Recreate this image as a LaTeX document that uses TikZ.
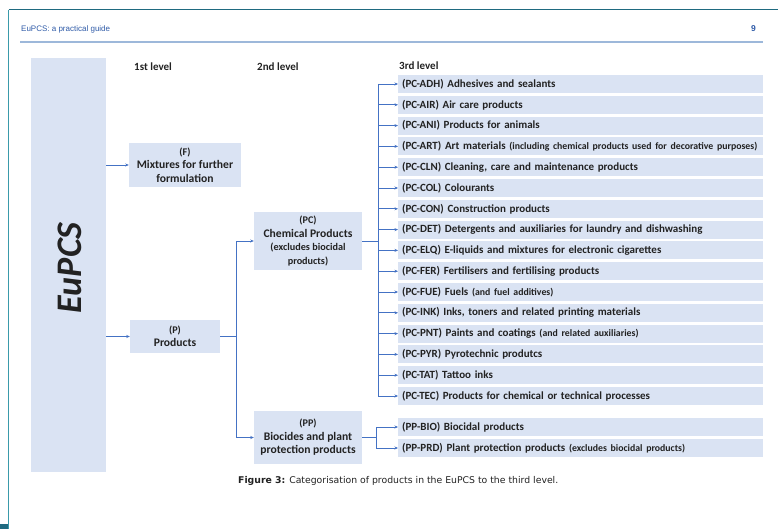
\documentclass[tikz,border=0pt]{standalone}
\usepackage{fontspec}
\setmainfont{Carlito}
\newfontfamily\hdrfont{Liberation Sans}
\newfontfamily\capfont{DejaVu Sans}
\usetikzlibrary{arrows.meta}
\definecolor{boxfill}{HTML}{DAE3F3}
\definecolor{lnblue}{HTML}{4472C4}
\definecolor{hdrblue}{HTML}{2F5BA8}
\definecolor{ruleblue}{HTML}{9DB8DA}
\definecolor{frameteal}{HTML}{1F6A80}
\definecolor{frameteal2}{HTML}{3A9AAA}
\definecolor{txt}{HTML}{222222}
\newcommand{\smtxt}[1]{{\fontsize{9.8}{11}\selectfont #1}}
\newcommand{\smbox}[1]{{\fontsize{10.2}{11}\selectfont #1}}
\begin{document}
\begin{tikzpicture}[x=1pt,y=-1pt,
 box/.style={fill=boxfill, draw=none, inner sep=0pt, align=center, text=txt, font=\bfseries\fontsize{11.6}{13.5}\selectfont},
 leaf/.style={fill=boxfill, draw=none, anchor=west, minimum height=18pt, text width=357pt, inner xsep=4pt, inner ysep=0pt, align=left, text=txt, font=\bfseries\fontsize{11}{13}\selectfont},
 conn/.style={draw=lnblue, line width=0.7pt},
 arr/.style={conn, -{Stealth[length=3.5pt,width=3pt]}},
 lvl/.style={anchor=base west, text=txt, font=\bfseries\fontsize{11}{13}\selectfont, inner sep=0pt}]
\useasboundingbox (0,0) rectangle (778,529);
\fill[white] (0,0) rectangle (778,529);
% page frame
\draw[frameteal, line width=1pt] (8.5,10) -- (778,10);
\draw[frameteal2, line width=1.2pt] (8.5,10) -- (8.5,529);
\fill[frameteal] (0,524) rectangle (8,529);
% header
\node[anchor=base west, inner sep=0pt, font=\hdrfont\fontsize{8}{9}\selectfont, text=hdrblue] (hdr) at (21,31.5) {EuPCS: a practical guide};
\node[anchor=base east, inner sep=0pt, font=\hdrfont\bfseries\fontsize{8.5}{9}\selectfont, text=hdrblue] (pgno) at (756,31.5) {9};
\draw[ruleblue, line width=2pt] (20,42.5) -- (763,42.5);
% level labels
\node[lvl] (l1lab) at (134,71) {1st level};
\node[lvl] (l2lab) at (257,71) {2nd level};
\node[lvl] (l3lab) at (399,69.5) {3rd level};
% EuPCS
\node[box, minimum width=75pt, minimum height=414pt] (eu) at (68.5,265) {};
\node[rotate=90, inner sep=0pt, text=txt, font=\bfseries\itshape\fontsize{36}{36}\selectfont] (eutxt) at (70,268) {EuPCS};
% first level
\node[box, minimum width=112pt, minimum height=44pt] (f) at (185,165) {\smbox{(F)}\\Mixtures for further\\formulation};
\node[box, minimum width=90pt, minimum height=33pt] (p) at (175,336.5) {\smbox{(P)}\\Products};
% second level
\node[box, minimum width=108pt, minimum height=58pt] (pc) at (308,241) {\smbox{(PC)}\\Chemical Products\\\smbox{(excludes biocidal}\\\smbox{products)}};
\node[box, minimum width=108pt, minimum height=53pt] (pp) at (308,437.5) {\smbox{(PP)}\\Biocides and plant\\protection products};
% third level
\foreach \i/\t in {
 1/{(PC-ADH) Adhesives and sealants},
 2/{(PC-AIR) Air care products},
 3/{(PC-ANI) Products for animals},
 4/{(PC-ART) Art materials \smtxt{(including chemical products used for decorative purposes)}},
 5/{(PC-CLN) Cleaning, care and maintenance products},
 6/{(PC-COL) Colourants},
 7/{(PC-CON) Construction products},
 8/{(PC-DET) Detergents and auxiliaries for laundry and dishwashing},
 9/{(PC-ELQ) E-liquids and mixtures for electronic cigarettes},
 10/{(PC-FER) Fertilisers and fertilising products},
 11/{(PC-FUE) Fuels \smtxt{(and fuel additives)}},
 12/{(PC-INK) Inks, toners and related printing materials},
 13/{(PC-PNT) Paints and coatings \smtxt{(and related auxiliaries)}},
 14/{(PC-PYR) Pyrotechnic produtcs},
 15/{(PC-TAT) Tattoo inks},
 16/{(PC-TEC) Products for chemical or technical processes}}
 \node[leaf] (c\i) at (398,{84+(\i-1)*20.8}) {\t};
\node[leaf] (b1) at (398,427) {(PP-BIO) Biocidal products};
\node[leaf] (b2) at (398,448) {(PP-PRD) Plant protection products \smtxt{(excludes biocidal products)}};
% connectors level 0 -> 1
\draw[arr] (eu.east |- f.west) -- (f.west);
\draw[arr] (eu.east |- p.west) -- (p.west);
% P -> PC, PP
\coordinate (tp) at (236,0);
\draw[conn] (p.east) -- (p.east -| tp);
\draw[conn] (tp |- pc.west) -- (tp |- pp.west);
\draw[arr] (tp |- pc.west) -- (pc.west);
\draw[arr] (tp |- pp.west) -- (pp.west);
% PC -> third level
\coordinate (tc) at (378,0);
\draw[conn] (pc.east) -- (pc.east -| tc);
\draw[conn] (tc |- c1.west) -- (tc |- c16.west);
\foreach \i in {1,...,16} \draw[arr] (tc |- c\i.west) -- (c\i.west);
% PP -> third level
\coordinate (tb) at (376,0);
\draw[conn] (pp.east) -- (pp.east -| tb);
\draw[conn] (tb |- b1.west) -- (tb |- b2.west);
\draw[arr] (tb |- b1.west) -- (b1.west);
\draw[arr] (tb |- b2.west) -- (b2.west);
% caption
\node[anchor=base west, inner sep=0pt, text=txt, font=\capfont\fontsize{9.3}{11}\selectfont] (cap) at (238,483) {\textbf{Figure 3:} Categorisation of products in the EuPCS to the third level.};
\end{tikzpicture}
\end{document}
